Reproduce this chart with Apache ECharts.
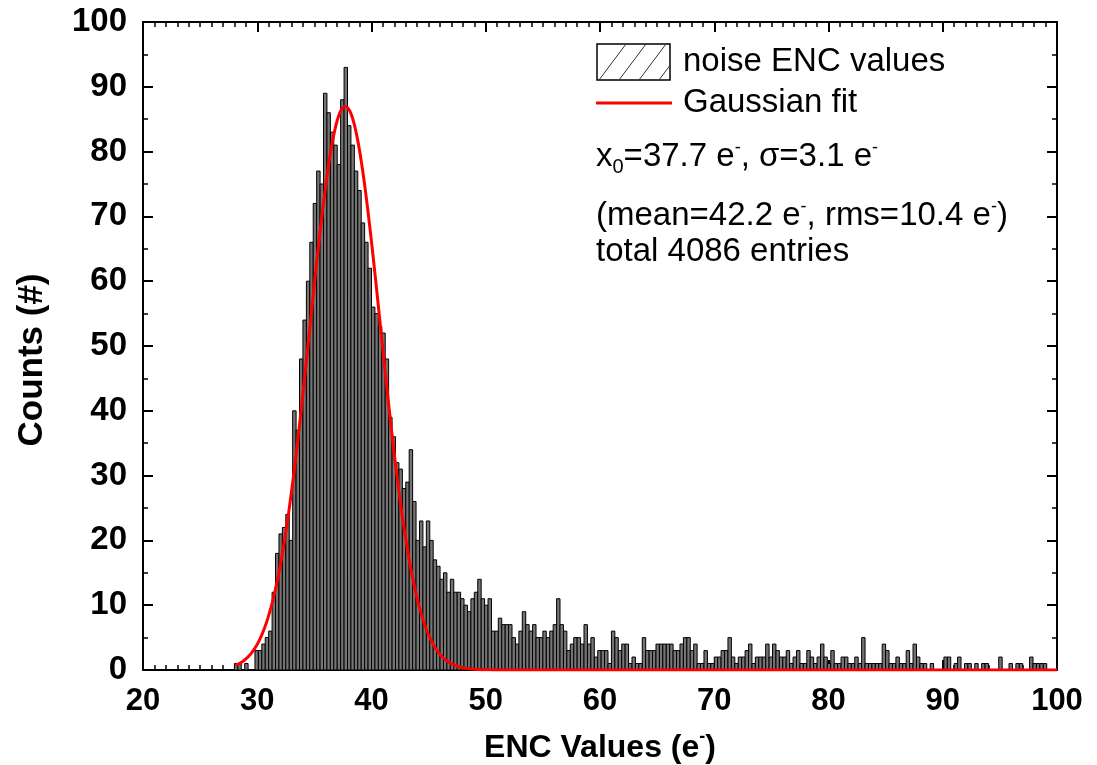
<!DOCTYPE html>
<html>
<head>
<meta charset="utf-8">
<script src="https://cdn.jsdelivr.net/npm/echarts@6/dist/echarts.min.js"></script>
<style>
  html, body { margin: 0; padding: 0; background: #ffffff; overflow: hidden; }
  #chart { width: 1097px; height: 765px; }
</style>
</head>
<body>
<div id="chart"></div>
<script>
// Histogram binning (ENC, electrons)
const binStart = 28.0;
const binWidth = 0.3;

// Entries per bin, starting at binStart
const counts = [
  1, 1, 0, 1, 0, 0, 3, 3, 4, 5,
  6, 12, 18, 21, 22, 24, 20, 40, 37, 48,
  54, 60, 66, 72, 77, 75, 89, 86, 83, 81,
  78, 88, 93, 84, 81, 77, 74, 69, 66, 62,
  56, 55, 53, 52, 48, 39, 36, 32, 31, 28,
  29, 34, 26, 20,
  23, 19, 23, 20, 17, 16, 14, 15, 12, 14,
  12, 12, 11, 10, 9, 11, 12, 14, 11, 10,
  11, 6, 6, 8, 7, 7, 7, 5, 4, 6,
  9, 7, 6, 7, 5, 5, 6, 5, 6, 7,
  11, 7, 6, 3, 4, 5, 5, 4, 7, 4,
  5, 2, 3, 3, 3, 1, 6, 5,
  3, 4, 4, 1, 2, 1, 1, 5, 3, 3,
  3, 4, 4, 4, 4, 4, 3, 3, 4, 5,
  5, 3, 4, 1, 1, 3, 1, 1, 2, 2,
  3, 3, 5, 2, 1, 2, 2, 3, 4, 1,
  2, 2, 2, 4, 2, 4, 3, 2, 2, 3,
  1, 2, 3, 1, 1, 3, 2, 1, 2, 4,
  2, 1, 3, 1,
  1, 2, 2, 1, 1, 2, 1, 5, 1, 1,
  1, 1, 1, 4, 3, 1, 1, 2, 1, 1,
  3, 1, 4, 2, 1, 1, 0, 1, 0, 0,
  0, 2, 2, 0, 1, 2, 0, 1, 1, 0,
  1, 0, 1, 1, 0, 0, 0, 2, 0, 0,
  1, 0, 1, 1, 0, 0, 2, 1, 1, 1,
  1, 0, 0, 0
];

// Gaussian fit parameters (amplitude in counts, centre and width in e-)
const fitAmplitude = 87;
const fitCenter = 37.7;
const fitSigma = 3.1;
const fitRange = [28.1, 100];

// Axis ranges
const xRange = [20, 100];
const yRange = [0, 100];

// Text block
const legendLabels = ['noise ENC values', 'Gaussian fit'];
const statsLines = [
  '{t|x}{sub|0}{t|=37.7 e}{sup|-}{t|, \u03c3=3.1 e}{sup|-}',
  '{t|(mean=42.2 e}{sup|-}{t|, rms=10.4 e}{sup|-}{t|)}',
  '{t|total 4086 entries}'
];

const histData = counts.map((c, i) => {
  const x0 = +(binStart + i * binWidth).toFixed(4);
  return [x0, +(x0 + binWidth).toFixed(4), c];
});

const fitData = [];
for (let x = fitRange[0]; x <= fitRange[1] + 1e-9; x += 0.05) {
  const d = (x - fitCenter) / fitSigma;
  fitData.push([x, fitAmplitude * Math.exp(-0.5 * d * d)]);
}

const FONT = '"Liberation Sans", Arial, Helvetica, sans-serif';
const BLACK = '#000000';

function axisCommon(showLabel, minorSplit, labelSize) {
  return {
    axisLine: { show: true, onZero: false, lineStyle: { color: BLACK, width: 2 } },
    axisTick: { show: true, inside: true, length: 10, lineStyle: { color: BLACK, width: 2 } },
    minorTick: { show: true, splitNumber: minorSplit, length: 5, lineStyle: { color: BLACK, width: 1.5 } },
    splitLine: { show: false },
    minorSplitLine: { show: false },
    axisLabel: {
      show: showLabel, color: BLACK, fontFamily: FONT, fontWeight: 'bold', fontSize: labelSize, margin: 16
    }
  };
}

// Hatched legend swatch
const sw = { x: 597, y: 44, w: 73, h: 36 };
const hatch = [];
const slope = 27 / 36; // horizontal run per vertical pixel
for (let bx = sw.x + 2; bx < sw.x + sw.w; bx += 20) {
  let x1 = bx, y1 = sw.y + sw.h;
  let x2 = bx + sw.h * slope, y2 = sw.y;
  if (x2 > sw.x + sw.w) {
    const over = x2 - (sw.x + sw.w);
    x2 = sw.x + sw.w;
    y2 = sw.y + over / slope;
  }
  hatch.push({
    type: 'line',
    shape: { x1: x1, y1: y1, x2: x2, y2: y2 },
    style: { stroke: '#333', lineWidth: 1 },
    z: 100
  });
}

const textRich = {
  t: { fontFamily: FONT, fontSize: 33, color: BLACK, lineHeight: 40 },
  sup: { fontFamily: FONT, fontSize: 18, color: BLACK, verticalAlign: 'top', lineHeight: 40, padding: [2, 0, 0, 0] },
  sub: { fontFamily: FONT, fontSize: 20, color: BLACK, verticalAlign: 'bottom', lineHeight: 34 }
};

const chart = echarts.init(document.getElementById('chart'), null, { renderer: 'canvas' });

chart.setOption({
  backgroundColor: '#ffffff',
  animation: false,
  grid: { left: 143, top: 22, width: 914, height: 648, containLabel: false, outerBoundsMode: 'none' },
  xAxis: [
    Object.assign({
      type: 'value', position: 'bottom', min: xRange[0], max: xRange[1], interval: 10,
      name: '{a|ENC Values (e}{s|-}{a|)}', nameLocation: 'middle', nameGap: 58,
      nameTextStyle: {
        rich: {
          a: { fontFamily: FONT, fontWeight: 'bold', fontSize: 32, color: BLACK, lineHeight: 40 },
          s: { fontFamily: FONT, fontWeight: 'bold', fontSize: 18, color: BLACK, verticalAlign: 'top', lineHeight: 40 }
        }
      }
    }, axisCommon(true, 10, 31)),
    Object.assign({
      type: 'value', position: 'top', min: xRange[0], max: xRange[1], interval: 10
    }, axisCommon(false, 10, 31))
  ],
  yAxis: [
    Object.assign({
      type: 'value', position: 'left', min: yRange[0], max: yRange[1], interval: 10,
      name: 'Counts (#)', nameLocation: 'middle', nameGap: 93, nameRotate: 90,
      nameTextStyle: { fontFamily: FONT, fontWeight: 'bold', fontSize: 35, color: BLACK, padding: [0, 0, 0, -28] }
    }, axisCommon(true, 2, 33)),
    Object.assign({
      type: 'value', position: 'right', min: yRange[0], max: yRange[1], interval: 10
    }, axisCommon(false, 2, 33))
  ],
  series: [
    {
      name: 'noise ENC values',
      type: 'custom',
      xAxisIndex: 0,
      yAxisIndex: 0,
      encode: { x: [0, 1], y: 2 },
      data: histData,
      renderItem: function (params, api) {
        const c = api.value(2);
        if (!c) return null;
        const p0 = api.coord([api.value(0), c]);
        const p1 = api.coord([api.value(1), 0]);
        return {
          type: 'rect',
          shape: { x: p0[0], y: p0[1], width: p1[0] - p0[0], height: p1[1] - p0[1] },
          style: { fill: '#747474', stroke: BLACK, lineWidth: 1 }
        };
      },
      z: 2
    },
    {
      name: 'Gaussian fit',
      type: 'line',
      xAxisIndex: 0,
      yAxisIndex: 0,
      data: fitData,
      showSymbol: false,
      smooth: false,
      lineStyle: { color: '#ff0000', width: 3 },
      z: 3
    }
  ],
  graphic: [
    { type: 'rect', shape: { x: sw.x, y: sw.y, width: sw.w, height: sw.h },
      style: { fill: '#ffffff', stroke: BLACK, lineWidth: 1.5 }, z: 99 },
    ...hatch,
    { type: 'text', x: 683, y: 62, z: 100,
      style: { text: legendLabels[0], font: '33px ' + FONT, fill: BLACK, verticalAlign: 'middle' } },
    { type: 'line', shape: { x1: 596, y1: 103, x2: 672, y2: 103 },
      style: { stroke: '#ff0000', lineWidth: 3 }, z: 100 },
    { type: 'text', x: 683, y: 103, z: 100,
      style: { text: legendLabels[1], font: '33px ' + FONT, fill: BLACK, verticalAlign: 'middle' } },
    { type: 'text', x: 596, y: 157, z: 100,
      style: { text: statsLines[0], rich: textRich, verticalAlign: 'middle' } },
    { type: 'text', x: 596, y: 216, z: 100,
      style: { text: statsLines[1], rich: textRich, verticalAlign: 'middle' } },
    { type: 'text', x: 596, y: 252, z: 100,
      style: { text: statsLines[2], rich: textRich, verticalAlign: 'middle' } }
  ]
});
</script>
</body>
</html>
